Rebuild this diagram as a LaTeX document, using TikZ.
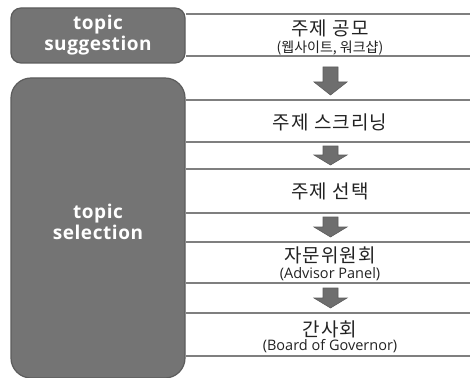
\documentclass[tikz,border=0pt]{standalone}
\usepackage{fontspec}
\setmainfont{Open Sans}
\newfontfamily\kr[LetterSpace=6]{Noto Sans CJK KR}
\newfontfamily\krsmall{Noto Sans CJK KR}
\newfontfamily\latin{Open Sans}
\newfontfamily\latinbold[LetterSpace=3]{Open Sans Bold}
\definecolor{boxfill}{HTML}{747474}
\definecolor{boxedge}{HTML}{5C5C5C}
\definecolor{rulegray}{HTML}{7F7F7F}
\definecolor{arrowfill}{HTML}{6E6E6E}
\definecolor{ink}{HTML}{222222}
\tikzset{
  stage/.style={draw=boxedge, fill=boxfill, line width=1.2pt},
  stagelabel/.style={text=white, font=\latinbold\fontsize{19}{21}\selectfont, align=center},
  rowrule/.style={draw=rulegray, line width=2pt},
  steptitle/.style={text=ink, font=\kr\fontsize{19}{21}\selectfont},
  stepnote/.style={text=ink, font=\latin\fontsize{14.5}{16}\selectfont},
  stepnotekr/.style={text=ink, font=\krsmall\fontsize{14}{16}\selectfont},
  flowarrow/.style={fill=arrowfill, draw=boxedge, line width=0.6pt, line join=miter},
}
% downward block arrow: centre x, top y, head start y, tip y
\newcommand\flowdown[4]{%
  \path[flowarrow] (#1-7.5,#2) -- (#1+7.5,#2) -- (#1+7.5,#3) -- (#1+16.5,#3)
    -- (#1,#4) -- (#1-16.5,#3) -- (#1-7.5,#3) -- cycle;}
\begin{document}
\begin{tikzpicture}[x=1pt, y=-1pt]
\useasboundingbox (0,0) rectangle (470,377);

% stage boxes on the left
\path[stage, rounded corners=10pt] (11,8) rectangle (185,63);
\node[stagelabel] (sugg) at (98,35.5) {topic\\suggestion};
\path[stage, rounded corners=20pt] (11,78) rectangle (185,378);
\node[stagelabel] (sel) at (98,222) {topic\\selection};

% row rules
\foreach \y in {14,56,100,142,169,213,242,283,313,356}
  \draw[rowrule] (186,\y) -- (470,\y);

% step texts
\node[steptitle] (s1) at (330,28) {주제 공모};
\node[stepnotekr] (s1n) at (330,48) {(웹사이트, 워크샵)};
\node[steptitle] (s2) at (330,122) {주제 스크리닝};
\node[steptitle] (s3) at (330,191) {주제 선택};
\node[steptitle] (s4) at (330,255) {자문위원회};
\node[stepnote] (s4n) at (330,274) {(Advisor Panel)};
\node[steptitle] (s5) at (330,329) {간사회};
\node[stepnote] (s5n) at (330,346) {(Board of Governor)};

% flow arrows between rows
\flowdown{330.5}{67}{82}{95}
\flowdown{330.5}{146}{155}{165}
\flowdown{330.5}{217}{227}{237}
\flowdown{330.5}{288}{298}{308}
\end{tikzpicture}
\end{document}
